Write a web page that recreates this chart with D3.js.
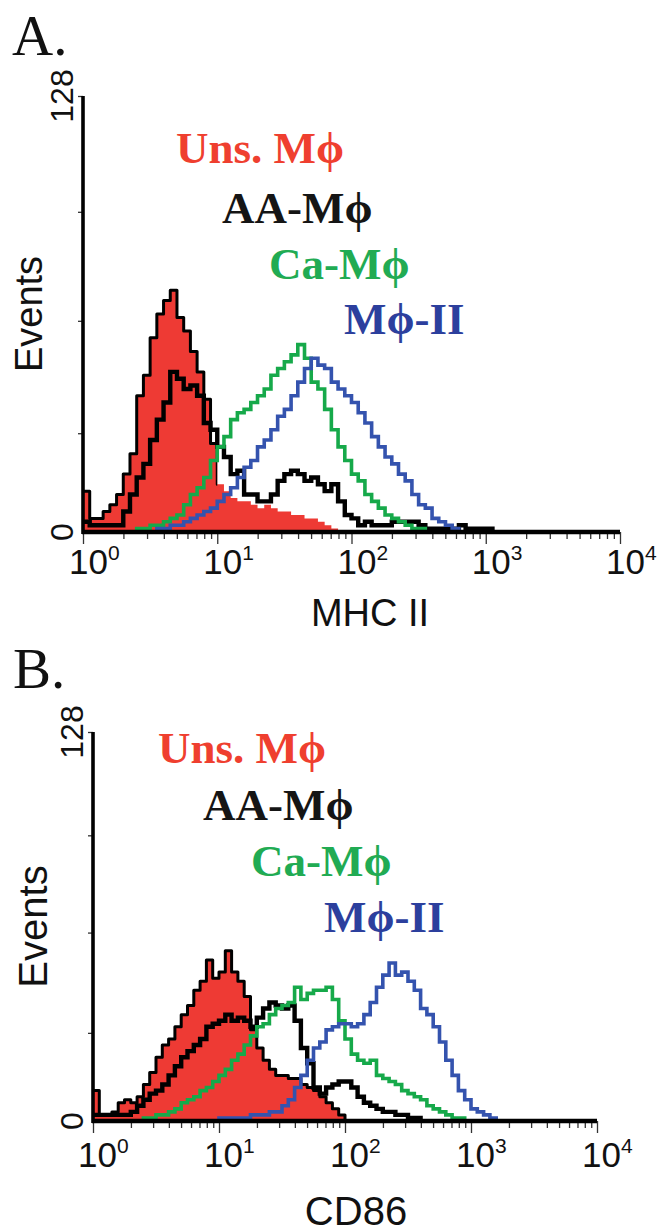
<!DOCTYPE html>
<html><head><meta charset="utf-8">
<script src="https://cdn.jsdelivr.net/npm/d3@7"></script>
<style>body{margin:0;background:#fff}</style>
</head><body>
<svg id="c" width="664" height="1232" xmlns="http://www.w3.org/2000/svg"></svg>
<script>
// channel positions in decades (log10 of fluorescence)
const decades = [0.00,0.05,0.10,0.15,0.20,0.25,0.30,0.35,0.40,0.45,0.50,0.55,0.60,0.65,0.70,0.75,0.80,0.85,0.90,0.95,
1.00,1.05,1.10,1.15,1.20,1.25,1.30,1.35,1.40,1.45,1.50,1.55,1.60,1.65,1.70,1.75,1.80,1.85,1.90,1.95,
2.00,2.05,2.10,2.15,2.20,2.25,2.30,2.35,2.40,2.45,2.50,2.55,2.60,2.65,2.70,2.75,2.80,2.85,2.90,2.95,
3.00,3.05,3.10,3.15,3.20];
const seriesNames = ["Uns. M\u03D5","AA-M\u03D5","Ca-M\u03D5","M\u03D5-II"];
const seriesColors = ["#ee3a34","#000000","#16a94a","#3453ae"];
const labelColors = ["#ef3f2f","#151515","#21ab53","#2c3f9d"];
const panelLetters = ["A.","B."];
const axisTitles = ["MHC II","CD86"];
const yAxisTitle = "Events";
const yTickLabels = ["0","128"];
const yMinorTicks = [29,62,94,128];
const xMajorExponents = [0,1,2,3,4];

// Panel A: MHC II
const mhcUns = [12,4,4,6,8,11,17,23,40,46,57,64,68,71,63,59,53,47,39,26,
14,12,10,9,9,8,7,8,7,6,6,5,5,4,4,3,2,1,0,0,
0,0,0,0,0,0,0,0,0,0,0,0,0,0,0,0,0,0,0,0,0,0,0,0,0];
const mhcAA = [3,2,2,2,2,2,6,11,16,20,27,33,38,47,45,42,43,40,32,30,
25,22,17,18,11,11,9,9,11,15,17,18,17,15,16,14,12,14,9,5,
4,2,3,2,2,2,3,3,3,3,2,1,1,1,1,1,2,1,1,1,1,0,0,0,0];
const mhcCa = [0,0,0,0,0,0,0,0,1,1,2,2,3,4,5,8,11,13,16,21,
25,28,33,35,36,38,40,42,46,48,50,52,55,51,44,42,36,30,25,21,
17,15,11,9,7,5,4,3,2,1,1,0,0,0,0,0,0,0,0,0,0,0,0,0,0];
const mhcII = [0,0,0,0,0,0,0,0,0,0,0,1,1,2,2,3,4,5,6,7,
9,11,13,16,19,21,25,27,30,34,36,40,44,48,51,49,48,44,42,40,
38,35,32,28,25,22,20,17,15,11,8,7,4,3,2,1,0,0,0,0,0,0,0,0,0];

// Panel B: CD86
const cdUns = [10,2,2,3,6,7,6,8,12,16,21,25,27,31,35,38,43,46,53,47,
49,56,49,46,41,30,24,20,17,15,15,14,14,12,11,10,8,6,4,2,
0,0,0,0,0,0,0,0,0,0,0,0,0,0,0,0,0,0,0,0,0,0,0,0,0];
const cdAA = [2,2,2,2,2,2,3,5,7,9,10,12,15,18,21,23,25,27,31,32,
33,35,33,34,33,31,34,37,39,38,37,38,33,24,19,11,9,11,12,13,
13,11,8,6,5,4,3,3,2,2,1,1,0,0,0,0,0,0,0,0,0,0,0,0,0];
const cdCa = [0,0,0,0,0,0,0,0,1,1,2,2,3,4,6,7,8,10,11,13,
15,17,20,22,25,28,31,32,35,37,38,39,44,40,42,43,43,44,40,33,
27,22,20,19,20,15,14,13,12,10,9,8,7,5,4,3,2,1,1,0,0,0,0,0,0];
const cdII = [0,0,0,0,0,0,0,0,0,0,0,0,0,0,0,0,0,0,0,0,
1,1,1,1,1,2,2,2,3,3,5,7,11,15,20,24,26,30,31,32,
32,31,32,35,39,44,48,52,48,49,46,43,37,35,31,26,20,15,10,7,
4,3,2,1,0];

const svg = d3.select("#c");
const defs = svg.append("defs");

function trim(vals) {
  let a = 0, b = vals.length - 1;
  while (a < vals.length && vals[a] === 0) a++;
  while (b > 0 && vals[b] === 0) b--;
  a = Math.max(0, a - 1); b = Math.min(vals.length - 1, b + 1);
  const out = [];
  for (let i = a; i <= b; i++) out.push([Math.pow(10, decades[i]), vals[i]]);
  return out;
}

function drawPanel(cfg, idx) {
  const g = svg.append("g");
  const x = d3.scaleLog().domain([1, 1e4]).range([cfg.x0, cfg.x1]);
  const y = d3.scaleLinear().domain([0, 128]).range([cfg.yb, cfg.yt]);
  const line = d3.line().x(d => x(d[0])).y(d => y(d[1])).curve(d3.curveStepAfter);
  const area = d3.area().x(d => x(d[0])).y0(y(0)).y1(d => y(d[1])).curve(d3.curveStepAfter);

  const clipId = "outline" + idx;
  defs.append("clipPath").attr("id", clipId).append("rect")
    .attr("x", 0).attr("y", 0).attr("width", x(cfg.outlineMax)).attr("height", 1232);

  const [uns, aa, ca, ii] = cfg.data;
  g.append("path").datum(trim(uns)).attr("d", area).attr("fill", seriesColors[0]);
  g.append("path").datum(trim(uns)).attr("d", line).attr("fill", "none").attr("clip-path", `url(#${clipId})`)
    .attr("stroke", "#000").attr("stroke-width", 3).attr("stroke-linejoin", "round");
  g.append("path").datum(trim(aa)).attr("d", line).attr("fill", "none")
    .attr("stroke", seriesColors[1]).attr("stroke-width", 4.4);
  g.append("path").datum(trim(ca)).attr("d", line).attr("fill", "none")
    .attr("stroke", seriesColors[2]).attr("stroke-width", 3.6);
  g.append("path").datum(trim(ii)).attr("d", line).attr("fill", "none")
    .attr("stroke", seriesColors[3]).attr("stroke-width", 3.6);

  const minor = x.ticks().filter(v => !xMajorExponents.some(e => Math.abs(v - Math.pow(10, e)) < 1e-9));
  const majorVals = xMajorExponents.map(e => Math.pow(10, e));
  const axMinor = g.append("g").attr("transform", `translate(0,${cfg.yb})`)
    .call(d3.axisBottom(x).tickValues(minor).tickSize(7).tickFormat(""));
  const axMajor = g.append("g").attr("transform", `translate(0,${cfg.yb})`)
    .call(d3.axisBottom(x).tickValues(majorVals).tickSize(12).tickFormat(""));
  [axMinor, axMajor].forEach(a => {
    a.select(".domain").remove();
    a.selectAll("line").attr("stroke", "#333").attr("stroke-width", 1.3);
  });
  g.append("line").attr("x1", x(1) - 1).attr("x2", x(1e4)).attr("y1", y(0)).attr("y2", y(0))
    .attr("stroke", "#000").attr("stroke-width", 4.5);
  xMajorExponents.forEach(e => {
    const t = g.append("text").attr("x", x(Math.pow(10, e)) - cfg.lblShift).attr("y", cfg.yb + cfg.lblDy)
      .attr("font-family", "Liberation Sans, Arial, sans-serif").attr("font-size", cfg.tickFs).attr("fill", "#111");
    t.append("tspan").text("10");
    t.append("tspan").attr("font-size", cfg.tickFs * 0.6).attr("dy", -cfg.tickFs * 0.4).text(String(e));
  });
  const ay = g.append("g").attr("transform", `translate(${cfg.x0},0)`)
    .call(d3.axisLeft(y).tickValues(yMinorTicks).tickSize(5).tickFormat(""));
  ay.select(".domain").remove();
  ay.selectAll("line").attr("stroke", "#333").attr("stroke-width", 1.3);
  g.append("line").attr("x1", cfg.x0).attr("x2", cfg.x0).attr("y1", y(128)).attr("y2", y(0) + 2)
    .attr("stroke", "#000").attr("stroke-width", 3.6);
  [[0, yTickLabels[0]], [128, yTickLabels[1]]].forEach(([v, s]) => {
    g.append("text").attr("transform", `translate(${cfg.x0 - 10},${y(v)}) rotate(-90)`)
      .attr("text-anchor", "middle").attr("font-family", "Liberation Sans, Arial, sans-serif")
      .attr("font-size", cfg.yFs).attr("fill", "#111").text(s);
  });
  g.append("text").attr("transform", `translate(${cfg.evX},${y(64)}) rotate(-90)`)
    .attr("text-anchor", "middle").attr("font-family", "Liberation Sans, Arial, sans-serif")
    .attr("font-size", cfg.titleFs).attr("fill", "#111").text(yAxisTitle);
  g.append("text").attr("x", cfg.titleX).attr("y", cfg.titleY).attr("text-anchor", "middle")
    .attr("font-family", "Liberation Sans, Arial, sans-serif").attr("font-size", cfg.titleFs)
    .attr("fill", "#111").text(cfg.title);
  g.append("text").attr("x", cfg.letterX).attr("y", cfg.letterY)
    .attr("font-family", "Liberation Serif, Times New Roman, serif").attr("font-size", cfg.letterFs)
    .attr("fill", "#111").text(cfg.letter);
  seriesNames.forEach((n, i) => {
    g.append("text").attr("x", cfg.legend[i][0]).attr("y", cfg.legend[i][1])
      .attr("font-family", "Liberation Serif, Times New Roman, serif").attr("font-weight", "bold")
      .attr("font-size", 45).attr("fill", labelColors[i]).text(n);
  });
}

drawPanel({
  x0: 83, x1: 620, yb: 532, yt: 96, data: [mhcUns, mhcAA, mhcCa, mhcII], outlineMax: 10,
  lblShift: 14, lblDy: 42, tickFs: 35, yFs: 32, titleFs: 38, evX: 42,
  title: axisTitles[0], titleX: 370, titleY: 626,
  letter: panelLetters[0], letterX: 12, letterY: 55, letterFs: 57,
  legend: [[176, 163], [222, 223], [269, 279], [344, 334]]
}, 0);
drawPanel({
  x0: 93, x1: 597, yb: 1121, yt: 732, data: [cdUns, cdAA, cdCa, cdII], outlineMax: 1e4,
  lblShift: 15, lblDy: 46, tickFs: 35, yFs: 32, titleFs: 40, evX: 47,
  title: axisTitles[1], titleX: 356, titleY: 1225,
  letter: panelLetters[1], letterX: 13, letterY: 688, letterFs: 57,
  legend: [[158, 763], [203, 820], [251, 876], [324, 932]]
}, 1);
</script>
</body></html>
